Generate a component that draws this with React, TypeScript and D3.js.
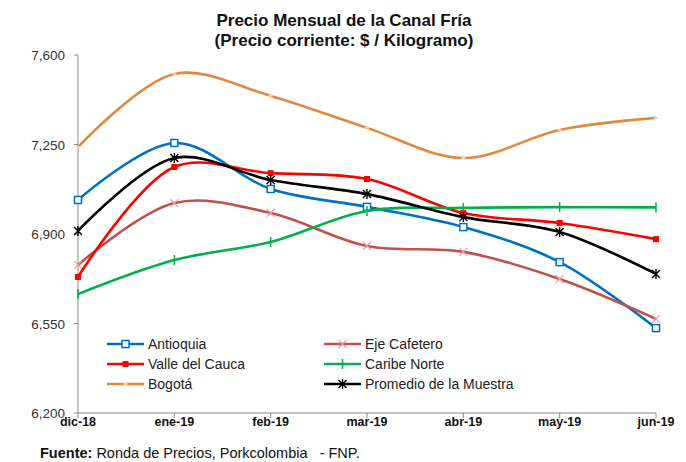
import React from 'react';
import * as d3 from 'd3';

const months = ['dic-18', 'ene-19', 'feb-19', 'mar-19', 'abr-19', 'may-19', 'jun-19'];
const yTicks = [6200, 6550, 6900, 7250, 7600];

const antioquia = [7033, 7256, 7076, 7006, 6927, 6790, 6532];
const ejeCafetero = [6779, 7021, 6982, 6853, 6830, 6724, 6568];
const valleCauca = [6732, 7162, 7138, 7115, 6982, 6943, 6880];
const caribeNorte = [6665, 6798, 6869, 6990, 7002, 7005, 7004];
const bogota = [7240, 7526, 7440, 7315, 7197, 7307, 7354];
const promedio = [6912, 7197, 7111, 7056, 6966, 6908, 6744];

type Marker = 'square' | 'x' | 'dot' | 'plus' | 'dash' | 'star';

const series: { name: string; values: number[]; color: string; marker: Marker; markerColor?: string }[] = [
  { name: 'Antioquia', values: antioquia, color: '#0070C0', marker: 'square' },
  { name: 'Eje Cafetero', values: ejeCafetero, color: '#C0504D', marker: 'x', markerColor: '#E6A09E' },
  { name: 'Valle del Cauca', values: valleCauca, color: '#FF0000', marker: 'dot' },
  { name: 'Caribe Norte', values: caribeNorte, color: '#00B050', marker: 'plus' },
  { name: 'Bogotá', values: bogota, color: '#E0893C', marker: 'dash', markerColor: '#F6CFA8' },
  { name: 'Promedio de la Muestra', values: promedio, color: '#000000', marker: 'star' },
];

const W = 686;
const H = 462;
const narrow = "'Liberation Sans Narrow', 'Arial Narrow', sans-serif";
const sans = "'Liberation Sans', Arial, sans-serif";

const x = d3.scalePoint<string>().domain(months).range([78, 656]);
const y = d3.scaleLinear().domain([6200, 7600]).range([413, 55]);

const line = d3.line<number>()
  .x((_, i) => x(months[i]) as number)
  .y(d => y(d))
  .curve(d3.curveCatmullRom.alpha(0.5));

function MarkerShape({ kind, cx, cy, color, mColor }: { kind: Marker; cx: number; cy: number; color: string; mColor?: string }) {
  switch (kind) {
    case 'square':
      return <rect x={cx - 3.5} y={cy - 3.5} width={7} height={7} fill="#fff" stroke={color} strokeWidth={1.5} />;
    case 'dot':
      return <rect x={cx - 3} y={cy - 3} width={6} height={6} fill={color} />;
    case 'x':
      return <path d={`M${cx - 4},${cy - 4}L${cx + 4},${cy + 4}M${cx - 4},${cy + 4}L${cx + 4},${cy - 4}`} stroke={mColor} strokeWidth={1.2} />;
    case 'plus':
      return <path d={`M${cx},${cy - 5}V${cy + 5}`} stroke={color} strokeWidth={1.5} />;
    case 'dash':
      return <path d={`M${cx - 2},${cy}H${cx + 2}`} stroke={mColor} strokeWidth={2} />;
    case 'star':
      return (
        <path
          d={`M${cx - 4},${cy - 4}L${cx + 4},${cy + 4}M${cx - 4},${cy + 4}L${cx + 4},${cy - 4}M${cx},${cy - 5}V${cy + 5}`}
          stroke={color}
          strokeWidth={1.4}
        />
      );
  }
}

export default function App() {
  const legendCols = [107, 324];
  const legendRows = [344, 364, 384];

  return (
    <svg width={W} height={H} style={{ position: 'absolute', left: 0, top: 0, background: '#fff' }}>
      <text x={344} y={26} textAnchor="middle" fontFamily={narrow} fontWeight="bold" fontSize={17} fill="#111">
        Precio Mensual de la Canal Fría
      </text>
      <text x={344} y={46} textAnchor="middle" fontFamily={narrow} fontWeight="bold" fontSize={17} fill="#111">
        (Precio corriente: $ / Kilogramo)
      </text>

      {/* y axis */}
      <line x1={78} x2={78} y1={y(7600)} y2={y(6200)} stroke="#888" />
      {yTicks.map(t => (
        <g key={t}>
          <line x1={74} x2={78} y1={y(t)} y2={y(t)} stroke="#888" />
          <text x={65} y={y(t) + 5} textAnchor="end" fontFamily={sans} fontSize={13.5} fill="#333">
            {d3.format(',')(t)}
          </text>
        </g>
      ))}

      {/* x axis */}
      <line x1={78} x2={656} y1={413} y2={413} stroke="#888" />
      {months.map(m => (
        <g key={m}>
          <line x1={x(m)} x2={x(m)} y1={413} y2={418} stroke="#888" />
          <text x={x(m)} y={426} textAnchor="middle" fontFamily={narrow} fontWeight="bold" fontSize={12.5} fill="#111">
            {m}
          </text>
        </g>
      ))}

      {series.map(s => (
        <g key={s.name}>
          <path d={line(s.values) || ''} fill="none" stroke={s.color} strokeWidth={2.6} />
          {s.values.map((v, i) => (
            <MarkerShape key={i} kind={s.marker} cx={x(months[i]) as number} cy={y(v)} color={s.color} mColor={s.markerColor} />
          ))}
        </g>
      ))}

      {/* legend */}
      {series.map((s, i) => {
        const lx = legendCols[i % 2];
        const ly = legendRows[Math.floor(i / 2)];
        return (
          <g key={s.name}>
            <line x1={lx} x2={lx + 37} y1={ly} y2={ly} stroke={s.color} strokeWidth={2.6} />
            <MarkerShape kind={s.marker} cx={lx + 18.5} cy={ly} color={s.color} mColor={s.markerColor} />
            <text x={lx + 41} y={ly + 5} fontFamily={sans} fontSize={14} fill="#222">
              {s.name}
            </text>
          </g>
        );
      })}

      <text x={40} y={458} fontFamily={narrow} fontSize={14.5} fill="#111" style={{ whiteSpace: 'pre' }}>
        <tspan fontWeight="bold">Fuente:</tspan>{' Ronda de Precios, Porkcolombia   - FNP.'}
      </text>
    </svg>
  );
}
